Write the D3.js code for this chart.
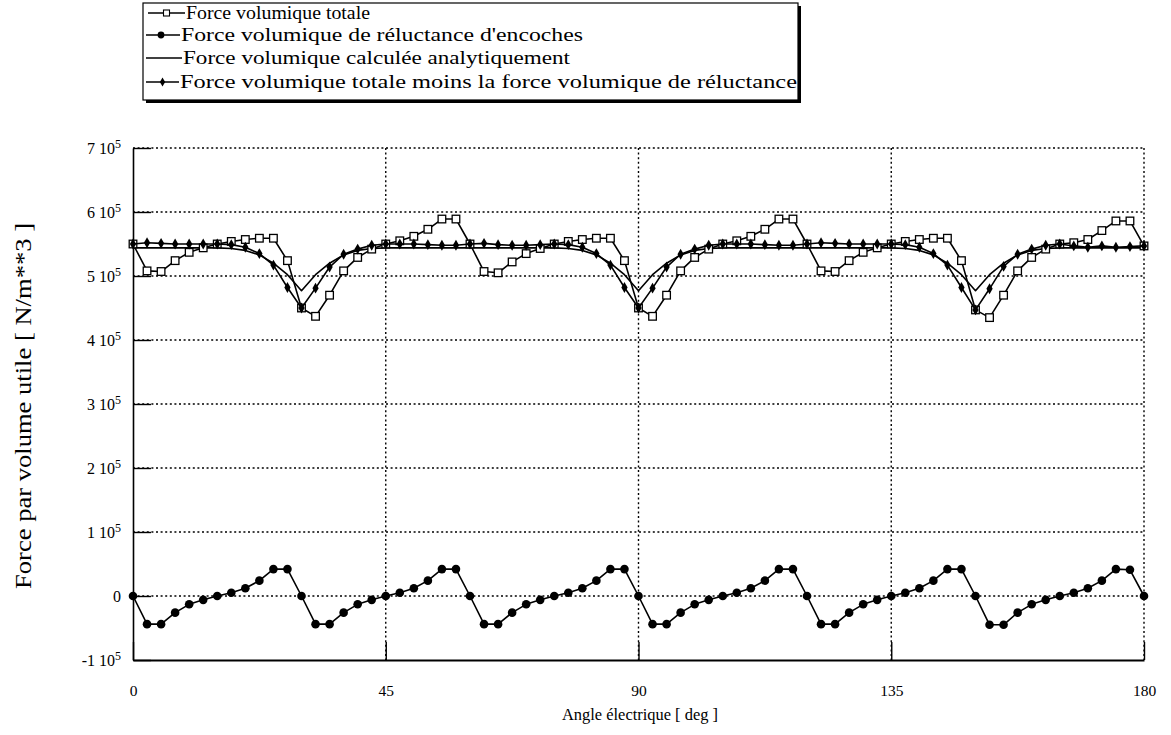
<!DOCTYPE html>
<html>
<head>
<meta charset="utf-8">
<script src="https://cdn.jsdelivr.net/npm/d3@7"></script>
<style>
  html, body { margin: 0; padding: 0; background: #fff; }
  svg { display: block; }
</style>
</head>
<body>
<script>
// Electrical angle in degrees (2.5° step)
const angles = [
  0, 2.5, 5, 7.5, 10, 12.5, 15, 17.5, 20, 22.5, 25, 27.5,
  30, 32.5, 35, 37.5, 40, 42.5, 45, 47.5, 50, 52.5, 55, 57.5,
  60, 62.5, 65, 67.5, 70, 72.5, 75, 77.5, 80, 82.5, 85, 87.5,
  90, 92.5, 95, 97.5, 100, 102.5, 105, 107.5, 110, 112.5, 115, 117.5,
  120, 122.5, 125, 127.5, 130, 132.5, 135, 137.5, 140, 142.5, 145, 147.5,
  150, 152.5, 155, 157.5, 160, 162.5, 165, 167.5, 170, 172.5, 175, 177.5,
  180
];

// Volume forces, in units of 10^5 N/m^3
const forceTotale = [
  5.50, 5.08, 5.07, 5.24, 5.37, 5.44, 5.50, 5.54, 5.57, 5.59, 5.59, 5.24,
  4.50, 4.37, 4.70, 5.08, 5.29, 5.42, 5.50, 5.55, 5.62, 5.73, 5.89, 5.89,
  5.50, 5.07, 5.05, 5.22, 5.35, 5.43, 5.50, 5.54, 5.57, 5.59, 5.59, 5.24,
  4.50, 4.37, 4.70, 5.08, 5.29, 5.42, 5.50, 5.55, 5.62, 5.73, 5.89, 5.89,
  5.50, 5.08, 5.07, 5.24, 5.37, 5.44, 5.50, 5.54, 5.57, 5.59, 5.59, 5.24,
  4.47, 4.35, 4.70, 5.08, 5.29, 5.42, 5.50, 5.52, 5.57, 5.71, 5.86, 5.86,
  5.47
];

const forceReluctance = [
  0.00, -0.44, -0.44, -0.26, -0.13, -0.06, 0.00, 0.05, 0.12, 0.24, 0.42, 0.42,
  0.00, -0.44, -0.44, -0.26, -0.13, -0.06, 0.00, 0.05, 0.12, 0.24, 0.42, 0.42,
  0.00, -0.44, -0.44, -0.26, -0.13, -0.06, 0.00, 0.05, 0.12, 0.24, 0.42, 0.42,
  0.00, -0.44, -0.44, -0.26, -0.13, -0.06, 0.00, 0.05, 0.12, 0.24, 0.42, 0.42,
  0.00, -0.44, -0.44, -0.26, -0.13, -0.06, 0.00, 0.05, 0.12, 0.24, 0.42, 0.42,
  0.00, -0.45, -0.45, -0.26, -0.13, -0.06, 0.00, 0.05, 0.12, 0.24, 0.42, 0.41,
  0.00
];

const forceAnalytique = [
  5.44, 5.44, 5.44, 5.44, 5.44, 5.44, 5.44, 5.43, 5.40, 5.33, 5.20, 5.02,
  4.77, 5.02, 5.20, 5.33, 5.40, 5.43, 5.44, 5.44, 5.44, 5.44, 5.44, 5.44,
  5.44, 5.44, 5.44, 5.44, 5.44, 5.44, 5.44, 5.43, 5.40, 5.33, 5.20, 5.02,
  4.77, 5.02, 5.20, 5.33, 5.40, 5.43, 5.44, 5.44, 5.44, 5.44, 5.44, 5.44,
  5.44, 5.44, 5.44, 5.44, 5.44, 5.44, 5.44, 5.43, 5.40, 5.33, 5.20, 5.02,
  4.77, 5.02, 5.20, 5.33, 5.40, 5.43, 5.44, 5.44, 5.44, 5.44, 5.44, 5.44,
  5.44
];

const forceTotaleMoinsReluctance = [
  5.50, 5.52, 5.51, 5.50, 5.50, 5.50, 5.50, 5.49, 5.45, 5.35, 5.17, 4.82,
  4.50, 4.81, 5.14, 5.34, 5.42, 5.48, 5.50, 5.50, 5.50, 5.49, 5.48, 5.48,
  5.50, 5.51, 5.49, 5.48, 5.48, 5.49, 5.50, 5.49, 5.45, 5.35, 5.17, 4.82,
  4.50, 4.81, 5.14, 5.34, 5.42, 5.48, 5.50, 5.50, 5.50, 5.49, 5.48, 5.48,
  5.50, 5.52, 5.51, 5.50, 5.50, 5.50, 5.50, 5.49, 5.45, 5.35, 5.17, 4.82,
  4.47, 4.80, 5.15, 5.34, 5.42, 5.48, 5.50, 5.47, 5.45, 5.47, 5.45, 5.46,
  5.47
];

// Axis ticks
const xTicks = [0, 45, 90, 135, 180];
const yTicks = [-1, 0, 1, 2, 3, 4, 5, 6, 7];

// Legend labels
const legendLabels = [
  "Force volumique totale",
  "Force volumique de réluctance d'encoches",
  "Force volumique calculée analytiquement",
  "Force volumique totale moins la force volumique de réluctance"
];

const FONT = "Liberation Serif, DejaVu Serif, serif";
const W = 1171, H = 735;
const svg = d3.select("body").append("svg")
  .attr("width", W).attr("height", H)
  .attr("font-family", FONT);

const x = d3.scaleLinear().domain([0, 180]).range([133, 1144]);
const y = d3.scaleLinear().domain([-1, 7]).range([660, 148]);

// Dotted grid
const grid = svg.append("g").attr("stroke", "#000").attr("stroke-width", 1.4)
  .attr("stroke-dasharray", "2,2.6").attr("fill", "none");
grid.selectAll("line.h").data(yTicks.filter(v => v > -1)).join("line")
  .attr("class", "h")
  .attr("x1", x(0)).attr("x2", x(180))
  .attr("y1", d => y(d)).attr("y2", d => y(d));
grid.selectAll("line.v").data(xTicks.filter(v => v > 0)).join("line")
  .attr("class", "v")
  .attr("x1", d => x(d)).attr("x2", d => x(d))
  .attr("y1", y(7)).attr("y2", y(-1));

// Axes with inward ticks
const yAxis = d3.axisLeft(y).tickValues(yTicks).tickSize(-18).tickSizeOuter(0).tickFormat("");
const gy = svg.append("g").attr("transform", `translate(${x(0)},0)`).call(yAxis);
gy.attr("font-family", FONT);
gy.select(".domain").attr("stroke", "#000").attr("stroke-width", 1.6);
gy.selectAll(".tick line").attr("stroke", "#000").attr("stroke-width", 1.4);
gy.selectAll(".tick").each(function (d) {
  const t = d3.select(this).append("text")
    .attr("x", -12).attr("dy", "0.35em")
    .attr("text-anchor", "end").attr("font-size", 16)
    .attr("font-family", FONT).attr("fill", "#000");
  if (d === 0) {
    t.text("0");
  } else {
    t.append("tspan").text(d + " 10");
    t.append("tspan").attr("font-size", 12).attr("dy", -6).text("5");
  }
});

const xAxis = d3.axisBottom(x).tickValues(xTicks).tickSize(-18).tickSizeOuter(0).tickFormat(d => d);
const gx = svg.append("g").attr("transform", `translate(0,${y(-1)})`).call(xAxis);
gx.attr("font-family", FONT);
gx.select(".domain").attr("stroke", "#000").attr("stroke-width", 1.8);
gx.selectAll(".tick line").attr("stroke", "#000").attr("stroke-width", 1.4);
gx.selectAll(".tick text").attr("font-size", 15.5).attr("dy", 0).attr("y", 36)
  .attr("font-family", FONT).attr("fill", "#000");

// Axis titles
svg.append("text")
  .attr("x", 640).attr("y", 720).attr("text-anchor", "middle")
  .attr("font-size", 17).attr("textLength", 156).attr("lengthAdjust", "spacingAndGlyphs")
  .text("Angle électrique [ deg ]");
svg.append("text")
  .attr("transform", "translate(31,406) rotate(-90)")
  .attr("text-anchor", "middle")
  .attr("font-size", 24).attr("textLength", 366).attr("lengthAdjust", "spacingAndGlyphs")
  .text("Force par volume utile [ N/m**3 ]");

// Series
const pts = vals => angles.map((a, i) => [a, vals[i]]);
const line = d3.line().x(d => x(d[0])).y(d => y(d[1]));
const plot = svg.append("g");

const pathStyle = sel => sel.attr("fill", "none").attr("stroke", "#000").attr("stroke-width", 1.6)
  .attr("stroke-linejoin", "round");

// Analytical curve (no markers)
plot.append("path").datum(pts(forceAnalytique)).attr("d", line).call(pathStyle);

// Total force with open squares
plot.append("path").datum(pts(forceTotale)).attr("d", line).call(pathStyle);
plot.selectAll("rect.sq").data(pts(forceTotale)).join("rect")
  .attr("class", "sq")
  .attr("x", d => x(d[0]) - 3.8).attr("y", d => y(d[1]) - 3.8)
  .attr("width", 7.6).attr("height", 7.6)
  .attr("fill", "#fff").attr("stroke", "#000").attr("stroke-width", 1.3);

// Total minus reluctance with small filled diamonds
const diamond = d3.symbol().type(d3.symbolDiamond).size(34);
plot.append("path").datum(pts(forceTotaleMoinsReluctance)).attr("d", line).call(pathStyle);
plot.selectAll("path.dm").data(pts(forceTotaleMoinsReluctance)).join("path")
  .attr("class", "dm")
  .attr("transform", d => `translate(${x(d[0])},${y(d[1])})`)
  .attr("d", diamond).attr("fill", "#000");

// Slot reluctance force with filled circles
plot.append("path").datum(pts(forceReluctance)).attr("d", line).call(pathStyle);
plot.selectAll("circle.rl").data(pts(forceReluctance)).join("circle")
  .attr("class", "rl")
  .attr("cx", d => x(d[0])).attr("cy", d => y(d[1])).attr("r", 4.3)
  .attr("fill", "#000");

// Legend box with drop shadow
const lg = svg.append("g");
lg.append("rect").attr("x", 146).attr("y", 6).attr("width", 655).attr("height", 97).attr("fill", "#000");
lg.append("rect").attr("x", 143).attr("y", 3).attr("width", 655).attr("height", 97)
  .attr("fill", "#fff").attr("stroke", "#000").attr("stroke-width", 1.2);

const legendRows = [
  { y: 13, x1: 148, x2: 185, tx: 186, tl: 184, marker: "square" },
  { y: 35, x1: 146, x2: 180, tx: 181, tl: 402, marker: "circle" },
  { y: 58, x1: 146, x2: 182, tx: 183, tl: 387, marker: "none" },
  { y: 82, x1: 146, x2: 179, tx: 180, tl: 617, marker: "diamond" }
];
legendRows.forEach((r, i) => {
  lg.append("line").attr("x1", r.x1).attr("x2", r.x2).attr("y1", r.y).attr("y2", r.y)
    .attr("stroke", "#000").attr("stroke-width", 1.4);
  const cx = (r.x1 + r.x2) / 2;
  if (r.marker === "square") {
    lg.append("rect").attr("x", cx - 3).attr("y", r.y - 3).attr("width", 6).attr("height", 6)
      .attr("fill", "#fff").attr("stroke", "#000").attr("stroke-width", 1.1);
  } else if (r.marker === "circle") {
    lg.append("circle").attr("cx", cx - 2).attr("cy", r.y).attr("r", 3.4).attr("fill", "#000");
  } else if (r.marker === "diamond") {
    lg.append("path").attr("transform", `translate(${cx},${r.y})`)
      .attr("d", d3.symbol().type(d3.symbolDiamond).size(24)).attr("fill", "#000");
  }
  lg.append("text").attr("x", r.tx).attr("y", r.y).attr("dy", "0.35em")
    .attr("font-size", 18).attr("textLength", r.tl).attr("lengthAdjust", "spacingAndGlyphs")
    .text(legendLabels[i]);
});
</script>
</body>
</html>
